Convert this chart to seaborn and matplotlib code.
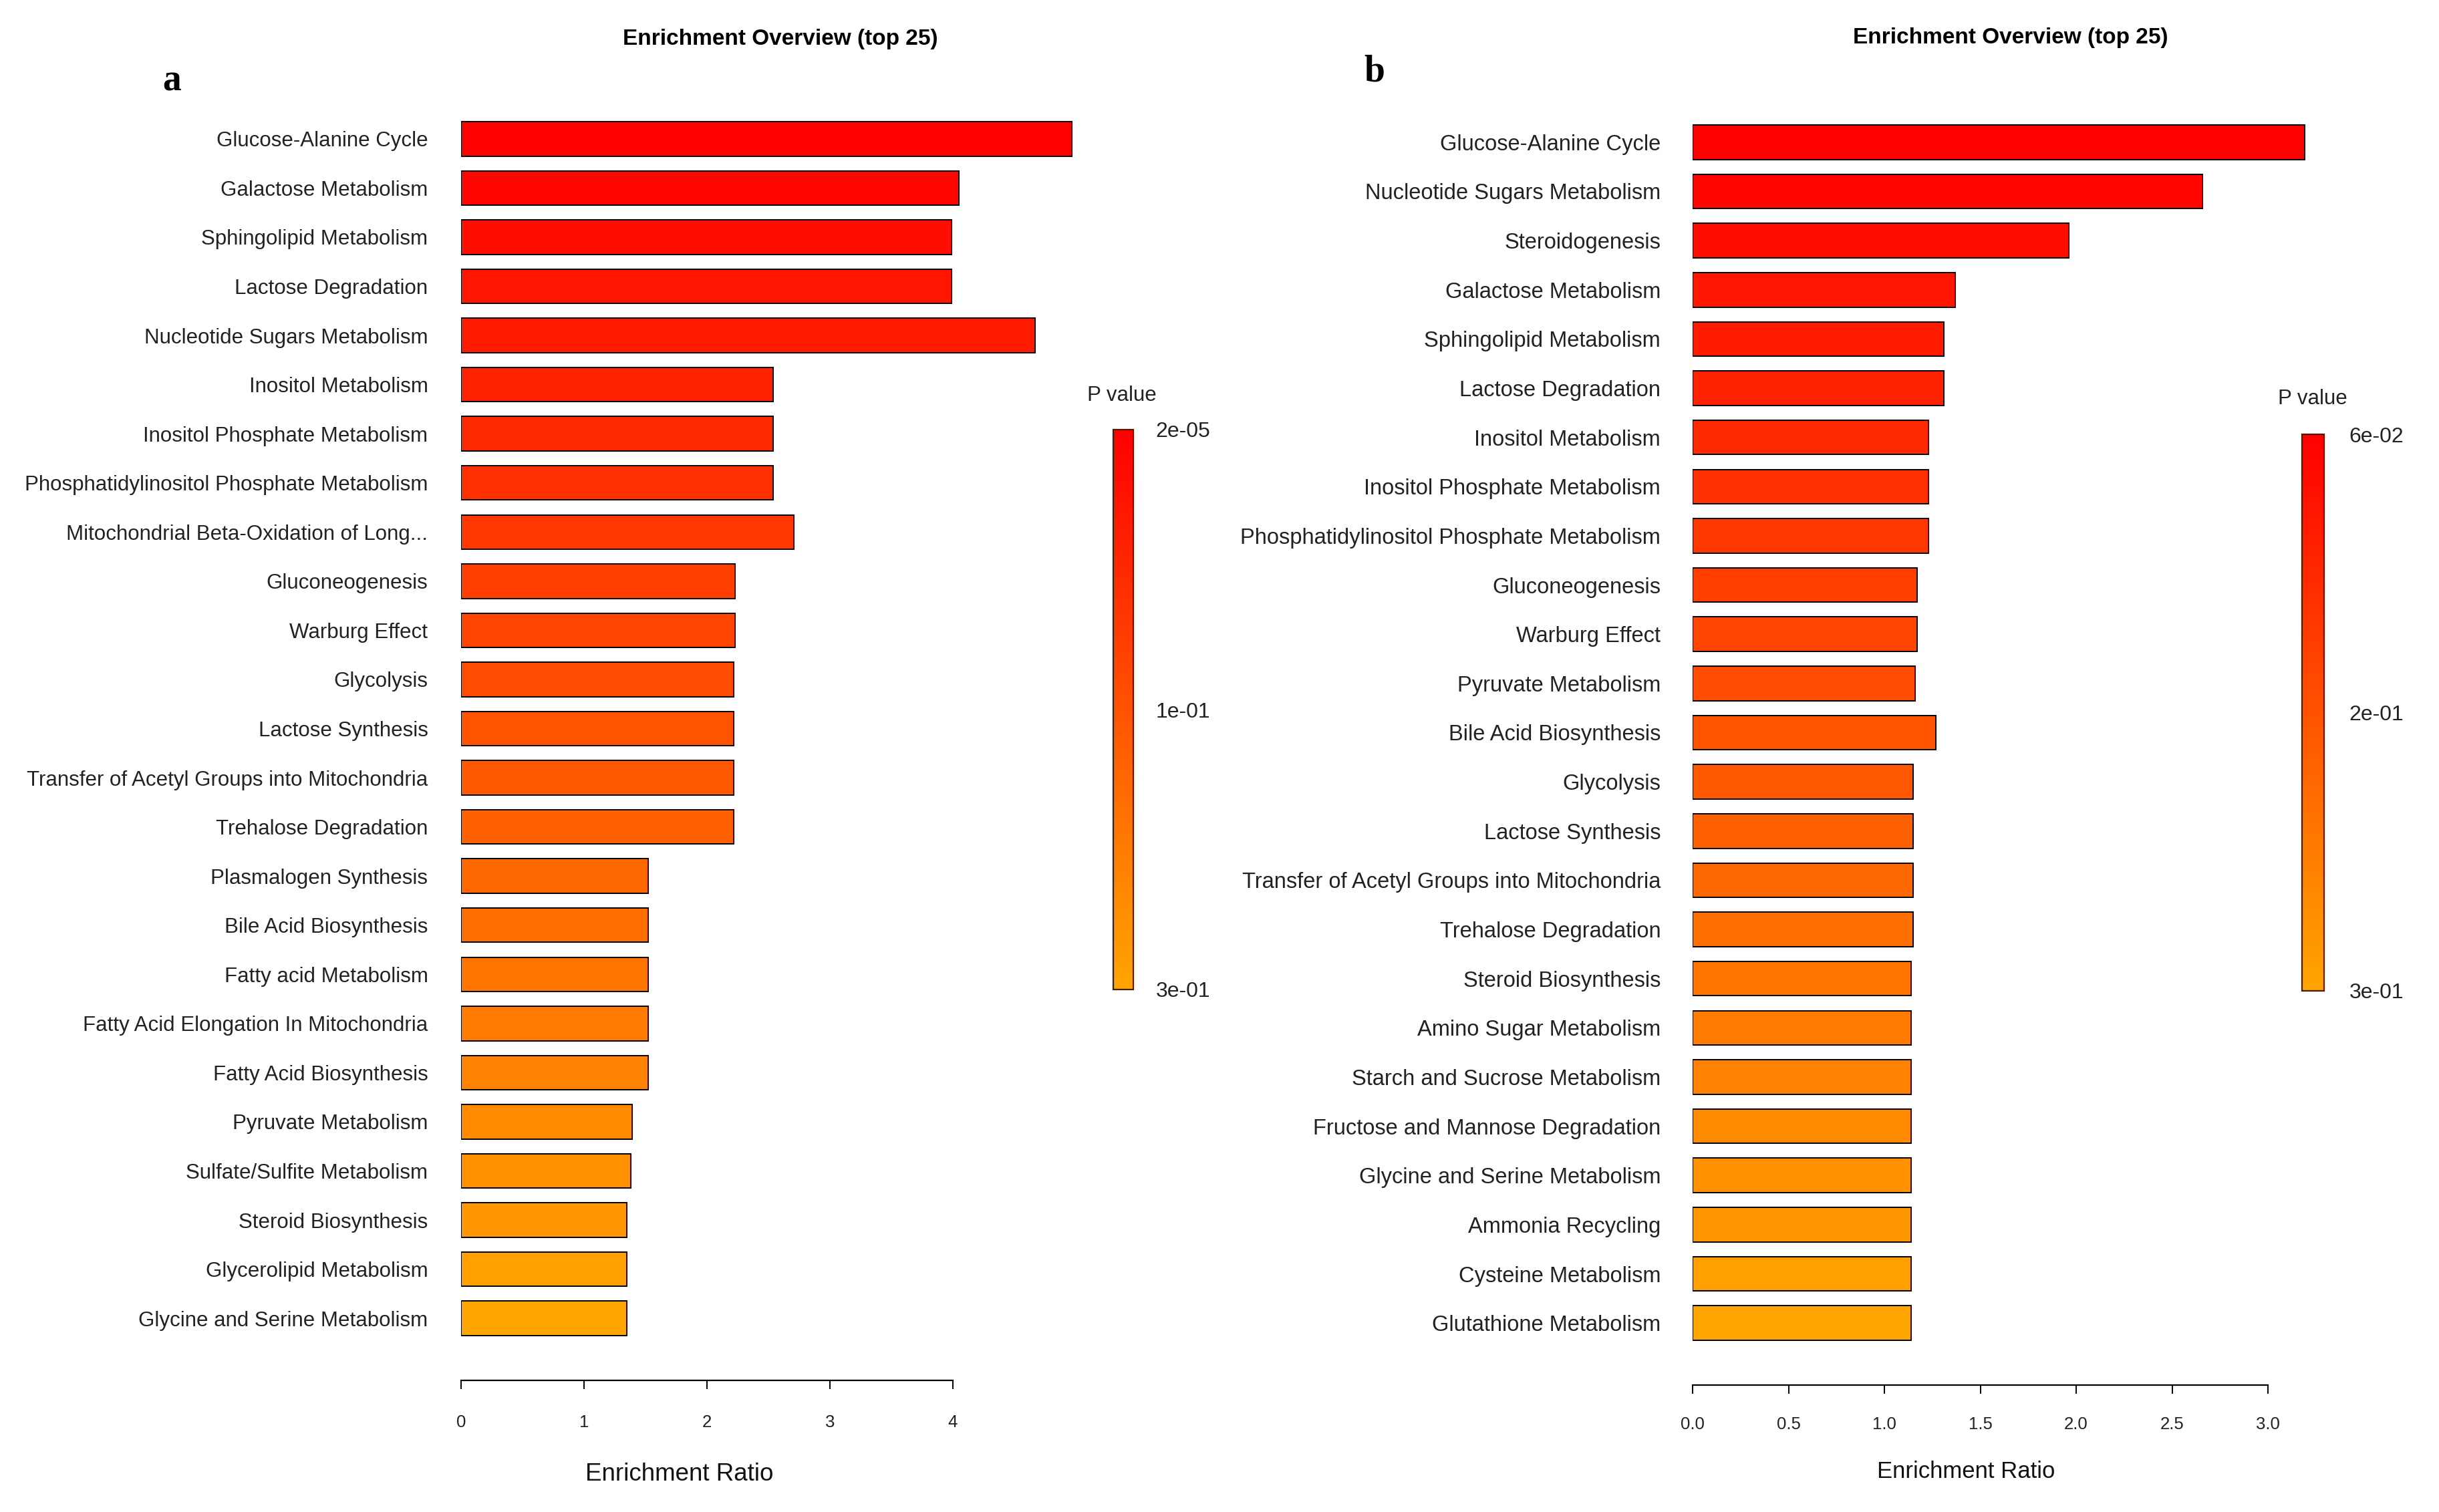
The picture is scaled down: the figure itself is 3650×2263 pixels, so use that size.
import matplotlib
matplotlib.use("Agg")
import matplotlib.pyplot as plt
import matplotlib as mpl
import numpy as np
import pandas as pd
import seaborn as sns
from matplotlib.colors import LinearSegmentedColormap, Normalize

# donnees
pathways_a = [
    "Glucose-Alanine Cycle", "Galactose Metabolism", "Sphingolipid Metabolism",
    "Lactose Degradation", "Nucleotide Sugars Metabolism", "Inositol Metabolism",
    "Inositol Phosphate Metabolism", "Phosphatidylinositol Phosphate Metabolism",
    "Mitochondrial Beta-Oxidation of Long...", "Gluconeogenesis", "Warburg Effect",
    "Glycolysis", "Lactose Synthesis", "Transfer of Acetyl Groups into Mitochondria",
    "Trehalose Degradation", "Plasmalogen Synthesis", "Bile Acid Biosynthesis",
    "Fatty acid Metabolism", "Fatty Acid Elongation In Mitochondria",
    "Fatty Acid Biosynthesis", "Pyruvate Metabolism", "Sulfate/Sulfite Metabolism",
    "Steroid Biosynthesis", "Glycerolipid Metabolism", "Glycine and Serine Metabolism",
]
ratio_a = [4.97, 4.05, 3.99, 3.99, 4.67, 2.54, 2.54, 2.54, 2.71, 2.23, 2.23, 2.22,
           2.22, 2.22, 2.22, 1.52, 1.52, 1.52, 1.52, 1.52, 1.39, 1.38, 1.35, 1.35, 1.35]

pathways_b = [
    "Glucose-Alanine Cycle", "Nucleotide Sugars Metabolism", "Steroidogenesis",
    "Galactose Metabolism", "Sphingolipid Metabolism", "Lactose Degradation",
    "Inositol Metabolism", "Inositol Phosphate Metabolism",
    "Phosphatidylinositol Phosphate Metabolism", "Gluconeogenesis", "Warburg Effect",
    "Pyruvate Metabolism", "Bile Acid Biosynthesis", "Glycolysis", "Lactose Synthesis",
    "Transfer of Acetyl Groups into Mitochondria", "Trehalose Degradation",
    "Steroid Biosynthesis", "Amino Sugar Metabolism", "Starch and Sucrose Metabolism",
    "Fructose and Mannose Degradation", "Glycine and Serine Metabolism",
    "Ammonia Recycling", "Cysteine Metabolism", "Glutathione Metabolism",
]
ratio_b = [3.19, 2.66, 1.96, 1.37, 1.31, 1.31, 1.23, 1.23, 1.23, 1.17, 1.17, 1.16,
           1.27, 1.15, 1.15, 1.15, 1.15, 1.14, 1.14, 1.14, 1.14, 1.14, 1.14, 1.14, 1.14]

xticks_a = [0, 1, 2, 3, 4]
xticks_b = [0.0, 0.5, 1.0, 1.5, 2.0, 2.5, 3.0]
pval_labels_a = ["2e-05", "1e-01", "3e-01"]
pval_labels_b = ["6e-02", "2e-01", "3e-01"]

W, H = 3650, 2263

sns.set_theme(style="white")
plt.rcParams['font.family'] = ['Liberation Sans', 'DejaVu Sans']

cmap = LinearSegmentedColormap.from_list("pv", ["#ff0000", "#ffa500"])


def px(x0, y0, x1, y1):
    # pixels -> coordonnees figure
    return [x0 / W, 1 - y1 / H, (x1 - x0) / W, (y1 - y0) / H]


def draw_panel(fig, names, ratios, xticks, xmax, ax_box, spine_out, pad_y, pad_x,
               label_size, cbar_box, cbar_pad, pval_labels, title_xy, xlabel_xy,
               xlabel_size, letter, letter_xy, pval_xy):
    ax = fig.add_axes(px(*ax_box))
    df = pd.DataFrame({"pathway": names, "ratio": ratios})
    n = len(names)
    colors = [cmap(i / (n - 1)) for i in range(n)]
    sns.barplot(data=df, x="ratio", y="pathway", hue="pathway", palette=colors,
                legend=False, width=0.7, edgecolor="black", linewidth=1.4,
                saturation=1, orient="h", ax=ax)
    ax.set_xlim(0, xmax)
    ax.set_ylim(n - 0.5, -0.5)
    ax.set_xlabel("")
    ax.set_ylabel("")
    for s in ["top", "right", "left"]:
        ax.spines[s].set_visible(False)
    ax.spines["bottom"].set_bounds(xticks[0], xticks[-1])
    ax.spines["bottom"].set_position(("outward", spine_out))
    ax.spines["bottom"].set_color("black")
    ax.spines["bottom"].set_linewidth(1.6)
    ax.set_xticks(xticks)
    ax.set_xticklabels([f"{t:g}" if isinstance(t, int) else f"{t:.1f}" for t in xticks])
    ax.tick_params(axis="x", bottom=True, length=9, width=1.4, color="black",
                   pad=pad_x, labelsize=18.5, labelcolor="#222222")
    ax.tick_params(axis="y", left=False, length=0, pad=pad_y, labelsize=label_size,
                   labelcolor="#222222")
    ax.grid(False)

    # legende de couleur (p value)
    cax = fig.add_axes(px(*cbar_box))
    cb = mpl.colorbar.ColorbarBase(cax, cmap=cmap, norm=Normalize(0, 1),
                                   orientation="vertical")
    cax.invert_yaxis()
    cb.set_ticks([0, 0.5, 1])
    cb.set_ticklabels(pval_labels)
    cb.outline.set_edgecolor("#4a1c00")
    cb.outline.set_linewidth(1.6)
    cax.tick_params(length=0, pad=cbar_pad, labelsize=23, labelcolor="#222222")

    fig.text(pval_xy[0] / W, 1 - pval_xy[1] / H, "P value", ha="center",
             va="center", fontsize=22.5, color="#222222")
    fig.text(title_xy[0] / W, 1 - title_xy[1] / H, "Enrichment Overview (top 25)",
             ha="center", va="center", fontsize=24, fontweight="bold",
             color="black")
    fig.text(xlabel_xy[0] / W, 1 - xlabel_xy[1] / H, "Enrichment Ratio",
             ha="center", va="center", fontsize=xlabel_size, color="#111111")
    fig.text(letter_xy[0] / W, 1 - letter_xy[1] / H, letter, ha="center",
             va="center", fontsize=40, fontweight="bold",
             family=['Liberation Serif', 'DejaVu Serif'], color="black")
    return ax


fig = plt.figure(figsize=(W / 100, H / 100), dpi=100)
fig.patch.set_facecolor("white")

draw_panel(fig, pathways_a, ratio_a, xticks_a, 5.05,
           (690, 171, 690 + 5.05 * 183.9, 2010), 40, 35.7, 28, 22.5,
           (1666, 643, 1696, 1481), 24, pval_labels_a,
           (1168, 59), (1017, 2206), 26.5, "a", (257, 122), (1679, 592))

draw_panel(fig, pathways_b, ratio_b, xticks_b, 3.22,
           (2533, 176, 2533 + 3.22 * 287, 2017), 40, 34.4, 25, 23.5,
           (3445, 650, 3478, 1483), 27, pval_labels_b,
           (3009, 56), (2942, 2202), 25, "b", (2057, 108), (3461, 597))

fig.savefig("out.png", dpi=100, facecolor="white")
